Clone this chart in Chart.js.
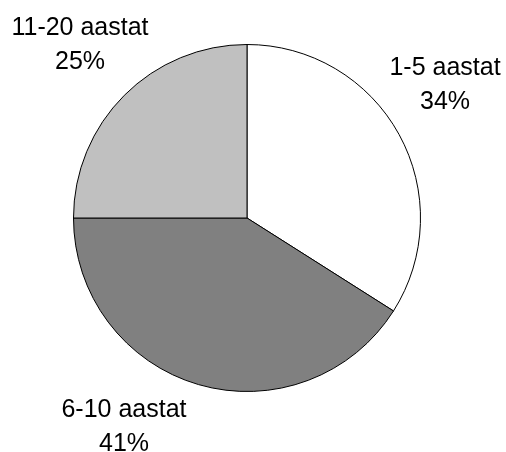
<!DOCTYPE html>
<html>
<head>
    <script src="https://cdn.jsdelivr.net/npm/chart.js"></script>
    <style>
        body { margin: 0; background: #fff; }
    </style>
</head>
<body>
    <canvas id="pie-chart" width="506" height="452"></canvas>

    <script>
        const categories = ['1-5 aastat', '6-10 aastat', '11-20 aastat'];
        const shares = [34, 41, 25];
        const sliceColors = ['#ffffff', '#808080', '#c0c0c0'];

        // baseline of the first text line for each label
        const labelSpots = [
            { x: 445, y: 75 },
            { x: 124, y: 417 },
            { x: 80, y: 35 }
        ];

        const outsideLabels = {
            id: 'outsideLabels',
            afterDraw(chart) {
                const c = chart.ctx;
                c.save();
                c.fillStyle = '#000';
                c.font = '25px "Liberation Sans", Arial, sans-serif';
                c.textAlign = 'center';
                c.textBaseline = 'alphabetic';
                chart.data.labels.forEach((name, i) => {
                    const p = labelSpots[i];
                    c.fillText(name, p.x, p.y);
                    c.fillText(chart.data.datasets[0].data[i] + '%', p.x, p.y + 34);
                });
                c.restore();
            }
        };

        const ctx = document.getElementById('pie-chart').getContext('2d');
        const pieChart = new Chart(ctx, {
            type: 'pie',
            data: {
                labels: categories,
                datasets: [{
                    data: shares,
                    backgroundColor: sliceColors,
                    borderColor: '#000',
                    borderWidth: 1
                }]
            },
            options: {
                responsive: false,
                animation: false,
                layout: {
                    padding: { top: 44, bottom: 60, left: 73, right: 85 }
                },
                plugins: {
                    legend: { display: false },
                    tooltip: { enabled: false }
                }
            },
            plugins: [outsideLabels]
        });
    </script>
</body>
</html>
